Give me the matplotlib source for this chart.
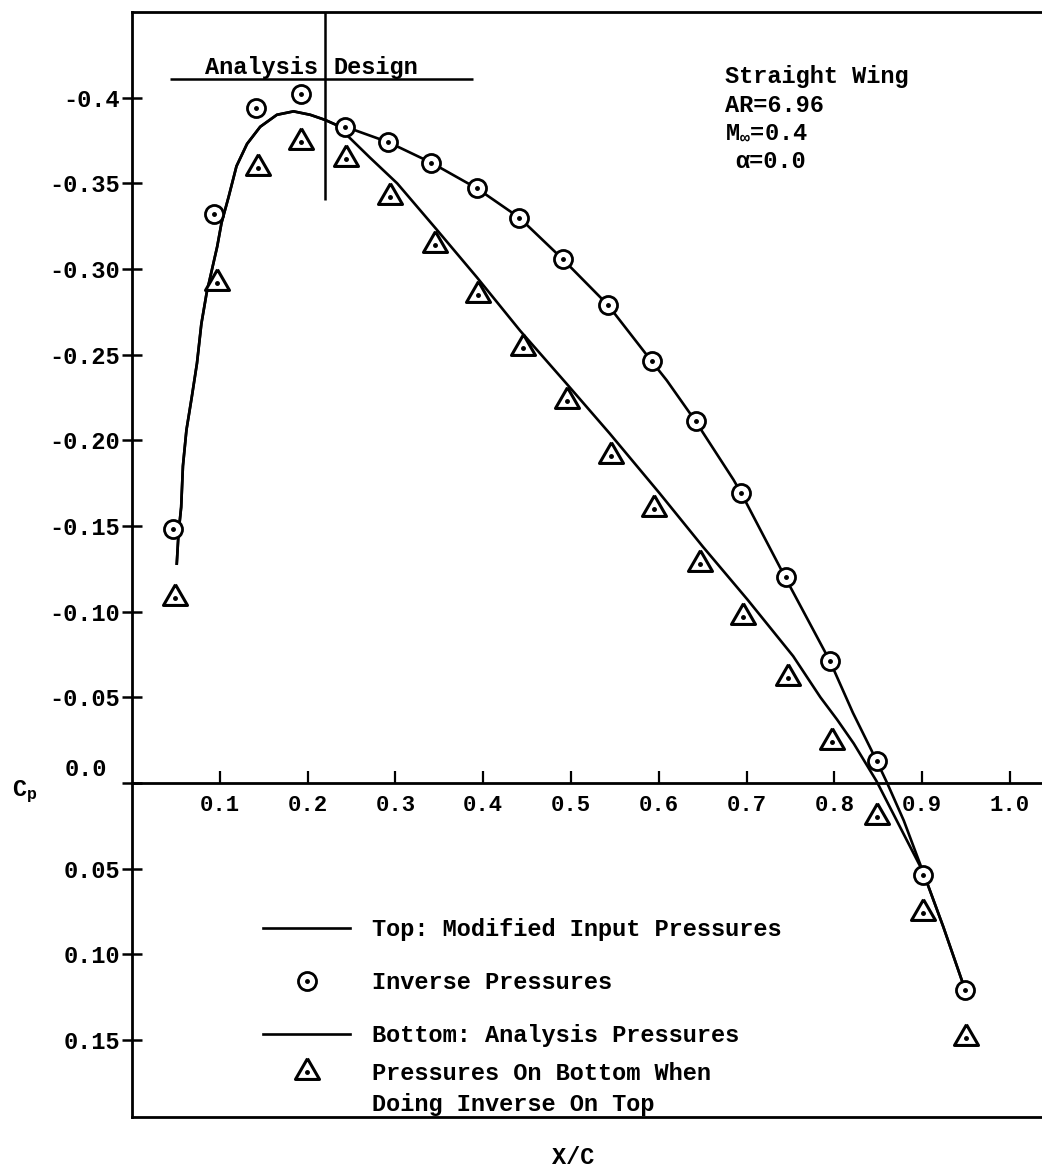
import matplotlib
matplotlib.use("Agg")
import matplotlib.pyplot as plt
from matplotlib.lines import Line2D
from matplotlib.legend_handler import HandlerTuple

# ---------------- data ----------------
# leading-edge part shared by both curves (analysis region)
shared_x = [0.051, 0.053, 0.056, 0.058, 0.062, 0.068, 0.074, 0.079, 0.085, 0.097,
            0.102, 0.110, 0.119, 0.131, 0.146, 0.165, 0.184, 0.203, 0.220, 0.233]
shared_cp = [-0.128, -0.146, -0.161, -0.185, -0.206, -0.225, -0.245, -0.268, -0.286, -0.313,
             -0.327, -0.342, -0.360, -0.373, -0.383, -0.390, -0.392, -0.390, -0.387, -0.384]

# Top: modified input pressures (design region)
top_x = [0.243, 0.292, 0.341, 0.393, 0.441, 0.490, 0.542, 0.592, 0.609, 0.642,
         0.685, 0.694, 0.746, 0.795, 0.821, 0.848, 0.860, 0.879, 0.901, 0.924, 0.949]
top_cp = [-0.383, -0.374, -0.362, -0.347, -0.330, -0.306, -0.279, -0.246, -0.235, -0.211,
          -0.177, -0.169, -0.118, -0.071, -0.041, -0.013, 0.000, 0.022, 0.052, 0.084, 0.121]

# Bottom: analysis pressures
bot_x = [0.243, 0.271, 0.302, 0.347, 0.393, 0.442, 0.495, 0.544, 0.601,
         0.650, 0.701, 0.753, 0.784, 0.803, 0.822, 0.848, 0.871, 0.890, 0.901, 0.924, 0.949]
bot_cp = [-0.379, -0.365, -0.350, -0.323, -0.295, -0.264, -0.233, -0.204, -0.169,
          -0.138, -0.107, -0.074, -0.050, -0.037, -0.023, -0.001, 0.022, 0.041, 0.052, 0.084, 0.121]

# Inverse pressures (circles)
inv_x = [0.047, 0.093, 0.141, 0.192, 0.243, 0.292, 0.341, 0.393, 0.441, 0.491,
         0.542, 0.592, 0.642, 0.694, 0.745, 0.795, 0.848, 0.901, 0.949]
inv_cp = [-0.148, -0.332, -0.394, -0.402, -0.383, -0.374, -0.362, -0.347, -0.330, -0.306,
          -0.279, -0.246, -0.211, -0.169, -0.120, -0.071, -0.013, 0.054, 0.121]

# Pressures on bottom when doing inverse on top (triangles)
tri_x = [0.049, 0.097, 0.144, 0.193, 0.244, 0.294, 0.345, 0.394, 0.445, 0.495,
         0.545, 0.594, 0.647, 0.696, 0.747, 0.797, 0.849, 0.901, 0.950]
tri_cp = [-0.108, -0.292, -0.359, -0.374, -0.364, -0.342, -0.314, -0.285, -0.254, -0.223,
          -0.191, -0.160, -0.128, -0.097, -0.061, -0.024, 0.020, 0.076, 0.149]

x_ticks = [0.1, 0.2, 0.3, 0.4, 0.5, 0.6, 0.7, 0.8, 0.9, 1.0]
x_tick_labels = ["0.1", "0.2", "0.3", "0.4", "0.5", "0.6", "0.7", "0.8", "0.9", "1.0"]
y_ticks = [-0.4, -0.35, -0.30, -0.25, -0.20, -0.15, -0.10, -0.05, 0.0, 0.05, 0.10, 0.15]
y_tick_labels = ["-0.4", "-0.35", "-0.30", "-0.25", "-0.20", "-0.15", "-0.10", "-0.05",
                 "", "0.05", "0.10", "0.15"]

split_x = 0.22          # analysis / design boundary
split_bar_y = -0.4107   # header bar level
split_bar_x = [0.043, 0.388]
split_line_end = -0.340

legend_labels = ["Top: Modified Input Pressures", "Inverse Pressures",
                 "Bottom: Analysis Pressures"]
legend_label_tri = "Pressures On Bottom When"
legend_label_cont = "Doing Inverse On Top"

# ---------------- style ----------------
plt.rcParams['font.family'] = ['Liberation Mono', 'DejaVu Sans Mono']
plt.rcParams['font.weight'] = 'bold'
plt.rcParams['mathtext.fontset'] = 'custom'
plt.rcParams['mathtext.rm'] = 'Liberation Mono:bold'
plt.rcParams['mathtext.it'] = 'Liberation Mono:bold'
plt.rcParams['mathtext.bf'] = 'Liberation Mono:bold'

FS = 17
W, H = 1042, 1172
fig = plt.figure(figsize=(W / 100, H / 100), dpi=100)
ax_l, ax_r, ax_t, ax_b = 132, 1042, 12, 1117
ax = fig.add_axes([ax_l / W, 1 - ax_b / H, (ax_r - ax_l) / W, (ax_b - ax_t) / H])

ax.set_xlim(0, 1.0364)
ax.set_ylim(0.195, -0.45)

LW = 1.9
ax.plot(shared_x + top_x, shared_cp + top_cp, color='black', lw=LW)
ax.plot(shared_x + bot_x, shared_cp + bot_cp, color='black', lw=LW)

tri_marker = [(0, 1), (-0.866, -0.5), (0.866, -0.5), (0, 1)]
circ, = ax.plot(inv_x, inv_cp, linestyle='none', marker='o', ms=13, mfc='white',
                mec='black', mew=2.0)
circ_dot, = ax.plot(inv_x, inv_cp, linestyle='none', marker='o', ms=2.5, color='black')
tri, = ax.plot(tri_x, tri_cp, linestyle='none', marker=tri_marker, ms=20, mfc='white',
               mec='black', mew=2.2)
tri_dot, = ax.plot(tri_x, tri_cp, linestyle='none', marker='o', ms=2.5, color='black')

# analysis/design header
ax.hlines(split_bar_y, split_bar_x[0], split_bar_x[1], color='black', lw=1.8)
ax.vlines(split_x, -0.45, split_line_end, color='black', lw=1.8)
ax.text(split_x - 0.008, -0.4137, "Analysis", ha='right', va='baseline', fontsize=FS)
ax.text(split_x + 0.009, -0.4137, "Design", ha='left', va='baseline', fontsize=FS)

# case info
ax.text(0.675, -0.4084, "Straight Wing", ha='left', va='baseline', fontsize=FS)
ax.text(0.675, -0.3915, "AR=6.96", ha='left', va='baseline', fontsize=FS)
ax.text(0.675, -0.3763, r"M$_{\infty}$=0.4", ha='left', va='baseline', fontsize=FS)
ax.text(0.687, -0.3588, "\u03b1=0.0", ha='left', va='baseline', fontsize=FS)

# axes styling
for s in ['left', 'top']:
    ax.spines[s].set_linewidth(2.0)
ax.spines['right'].set_visible(False)
ax.spines['bottom'].set_position(('data', 0))
ax.spines['bottom'].set_linewidth(2.0)
ax.plot([0, 1], [0, 0], transform=ax.transAxes, color='black', lw=2.0, clip_on=False)

ax.set_xticks(x_ticks)
ax.set_xticklabels(x_tick_labels, fontsize=FS - 1)
ax.set_yticks(y_ticks)
ax.set_yticklabels(y_tick_labels, fontsize=FS)
ax.tick_params(axis='x', direction='in', length=9, width=1.6, pad=9)
ax.tick_params(axis='y', direction='inout', length=15, width=1.8, pad=1)

ax.text((107 - ax_l) / (ax_r - ax_l), -0.0076, "0.0", ha='right', va='center',
        fontsize=FS, transform=ax.get_yaxis_transform())
fig.text(12 / W, 1 - 792 / H, r"C$_{\mathrm{p}}$", ha='left', va='center', fontsize=FS)
fig.text(573 / W, 1 - 1157 / H, "X/C", ha='center', va='center', fontsize=FS)

# legend (two parts to reproduce the uneven row spacing of the original)
top_h = Line2D([], [], color='black', lw=LW)
bot_h = Line2D([], [], color='black', lw=LW)
common = dict(handler_map={tuple: HandlerTuple(ndivide=1)}, loc='upper left',
              bbox_transform=fig.transFigure, frameon=False, borderpad=0,
              borderaxespad=0, handlelength=3.7, handletextpad=0.9,
              labelspacing=1.27, numpoints=1, prop={'size': FS, 'weight': 'bold'})
leg1 = ax.legend([top_h, (circ, circ_dot), bot_h], legend_labels,
                 bbox_to_anchor=(263 / W, 1 - 918 / H), **common)
ax.add_artist(leg1)
leg2 = ax.legend([(tri, tri_dot)], [legend_label_tri],
                 bbox_to_anchor=(263 / W, 1 - 1062 / H), **common)
fig.text(372 / W, 1 - 1105 / H, legend_label_cont, ha='left', va='center', fontsize=FS)

fig.savefig("out.png", dpi=100)
